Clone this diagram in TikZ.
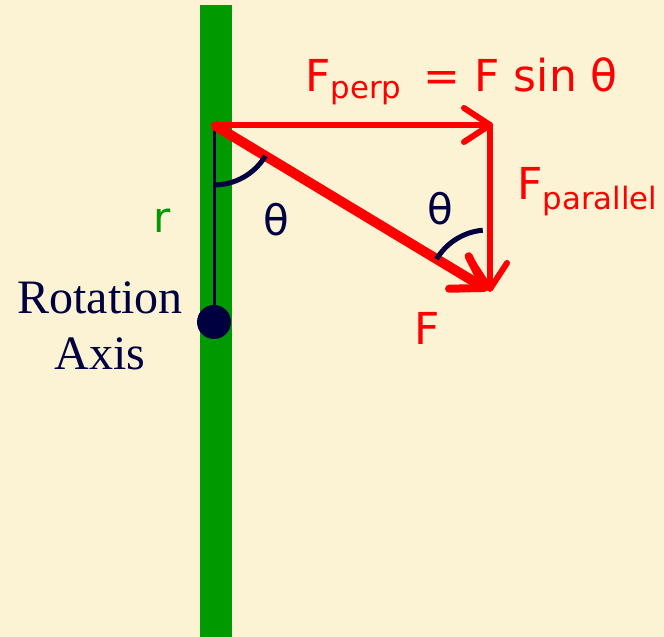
\documentclass[tikz,border=0pt]{standalone}
\usepackage{fontspec}
\setmainfont{Liberation Serif}
\newfontfamily\labelfont{DejaVu Sans}
\usetikzlibrary{arrows.meta,positioning,calc}
\definecolor{paper}{RGB}{252,242,212}
\definecolor{barGreen}{RGB}{0,153,0}
\definecolor{navy}{RGB}{0,0,64}
\tikzset{
  force/.style={red,line width=3pt,line cap=round,-{Straight Barb[length=13pt,width=17pt,line width=3pt,round]}},
  bigforce/.style={red,line width=5pt,-{Straight Barb[length=15pt,width=19pt,line width=4pt,round]}},
  anglearc/.style={navy,line width=2.5pt},
  redlabel/.style={red,font=\labelfont\fontsize{22}{26}\selectfont,inner sep=0pt},
  navylabel/.style={navy,font=\labelfont\fontsize{21}{25}\selectfont,inner sep=0pt}
}
\begin{document}
\begin{tikzpicture}[x=0.5pt,y=0.5pt]
\useasboundingbox (0,0) rectangle (664,637);
\fill[paper] (0,0) rectangle (664,637);
% the rod
\fill[barGreen] (200,0) rectangle (232,632);
% key points
\coordinate (pivot) at (214,512);
\coordinate (perpEnd) at (493,512);
\coordinate (corner) at (490,512);
\coordinate (parEnd) at (490,345);
\coordinate (forceEnd) at (488,347);
\coordinate (axis) at (214,315);
% lever arm and axis
\draw[navy,line width=1.5pt] (pivot) -- (axis);
\fill[navy] (axis) circle[radius=8.5pt];
% force components
\draw[force] (pivot) -- (perpEnd);
\draw[force] (corner) -- (parEnd);
\draw[bigforce] (pivot) -- (forceEnd);
% angles
\draw[anglearc] ($(pivot)+(-90:60)$) arc[start angle=-90,end angle=-31,radius=30pt];
\draw[anglearc] ($(forceEnd)+(95:60)$) arc[start angle=95,end angle=149,radius=30pt];
% labels
\node[navylabel] (thetaL) at (276,417) {θ};
\node[navylabel] (thetaR) at (440,428) {θ};
\node[barGreen,font=\labelfont\fontsize{21}{24}\selectfont] (rlab) at (162,416) {r};
\node[navy,align=center,font=\fontsize{24}{28}\selectfont] (axislab) at (100,311) {Rotation\\Axis};
\node[redlabel,anchor=base west] (flab) at (414,292) {F};
\node[redlabel,anchor=base west] (perplab) at (305,545) {F\textsubscript{perp}\, = F sin θ};
\node[redlabel,anchor=base west] (parlab) at (517,437) {F\textsubscript{parallel}};
\end{tikzpicture}
\end{document}
